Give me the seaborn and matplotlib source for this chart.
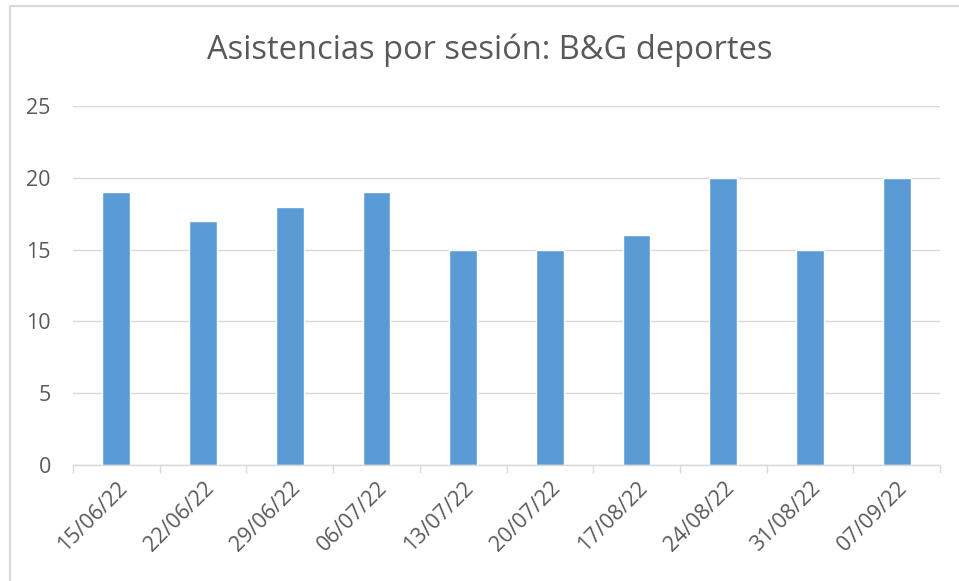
import matplotlib.pyplot as plt
import seaborn as sns
from matplotlib.patches import Rectangle

# Data
fechas = ["15/06/22", "22/06/22", "29/06/22", "06/07/22", "13/07/22",
          "20/07/22", "17/08/22", "24/08/22", "31/08/22", "07/09/22"]
asistencias = [19, 17, 18, 19, 15, 15, 16, 20, 15, 20]

sns.set_style("white")
plt.rcParams['font.family'] = ['Open Sans', 'DejaVu Sans']

fig = plt.figure(figsize=(9.59, 5.81), dpi=100)
ax = fig.add_axes([73 / 959, 116 / 581, 867 / 959, 359 / 581])

sns.barplot(x=fechas, y=asistencias, color='#5B9BD5', saturation=1,
            width=0.32, ax=ax)

ax.set_ylim(0, 25)
ax.set_xlim(-0.5, len(fechas) - 0.5)
ax.set_yticks(range(0, 26, 5))
ax.yaxis.grid(True, color='#d9d9d9', linewidth=1)
ax.set_axisbelow(True)
for s in ['top', 'right', 'left']:
    ax.spines[s].set_visible(False)
ax.spines['bottom'].set_color('#d9d9d9')
ax.spines['bottom'].set_linewidth(1)

# tick marks between categories
ax.set_xticks([i - 0.5 for i in range(len(fechas) + 1)], minor=True)
ax.tick_params(axis='x', which='minor', length=6, color='#d9d9d9', width=1,
               direction='out', bottom=True)
ax.tick_params(axis='x', which='major', length=0, pad=9)
ax.tick_params(axis='y', length=0, pad=16)
ax.set_xticks(range(len(fechas)))
ax.set_xticklabels(fechas, rotation=45, ha='right', rotation_mode='anchor',
                   color='#595959', fontsize=15.5)
for lab in ax.get_yticklabels():
    lab.set_color('#595959')
    lab.set_fontsize(15.5)

fig.text(490 / 959, 1 - 50 / 581, "Asistencias por sesión: B&G deportes",
         fontsize=23.5, color='#595959', ha='center', va='center')

# outer chart border (left and top visible)
fig.patches.append(Rectangle((10 / 959, -0.1), 1.2, 1.1 - 6 / 581,
                             transform=fig.transFigure, fill=False,
                             edgecolor='#d9d9d9', linewidth=1.5))

fig.savefig('out.png', dpi=100)
